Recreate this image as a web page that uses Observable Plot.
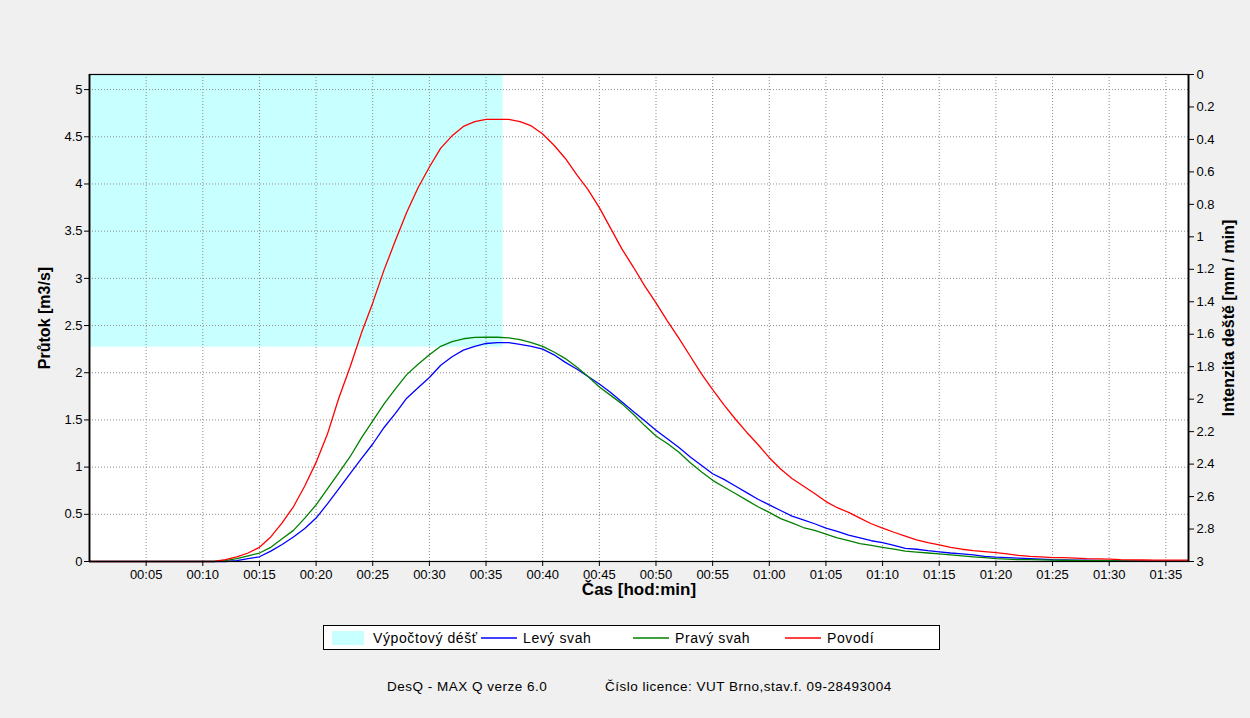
<!DOCTYPE html>
<html>
<head>
<meta charset="utf-8">
<script src="https://cdn.jsdelivr.net/npm/d3@7"></script>
<script src="https://cdn.jsdelivr.net/npm/@observablehq/plot@0.6"></script>
<style>
  html, body { margin: 0; padding: 0; background: #f0f0f0; }
  body { font-family: "Liberation Sans", Arial, sans-serif; color: #000; }
  #wrap { position: relative; width: 1250px; height: 718px; overflow: hidden; background: #f0f0f0; }
  #chart { position: absolute; left: 0; top: 0; }
  #legend { position: absolute; left: 323px; top: 625px; width: 615px; height: 23px; border: 1px solid #000; background: #fff;
            font-size: 14px; letter-spacing: 0.6px; }
  .item { position: absolute; top: 0; height: 23px; display: flex; align-items: center; white-space: nowrap; }
  .sw { display: inline-block; width: 32px; height: 14px; margin-right: 9px; }
  .ln { display: block; margin-right: 6px; }
  .foot { position: absolute; top: 679px; font-size: 13.5px; letter-spacing: 0.5px; white-space: nowrap; }
</style>
</head>
<body>
<div id="wrap">
  <div id="chart"></div>
  <div id="legend"></div>
  <div class="foot" style="left:387px">DesQ - MAX Q verze 6.0</div>
  <div class="foot" style="left:605px">Číslo licence: VUT Brno,stav.f. 09-28493004</div>
</div>
<script>
// ---- data (time in minutes) ----
const minutes = [0, 10, 11, 12, 13, 14, 15, 16, 17, 18, 19, 20, 21, 22, 23, 24, 25, 26, 27, 28, 29,
  30, 31, 32, 33, 34, 35, 36, 37, 38, 39, 40, 41, 42, 43, 44, 45, 46, 47, 48, 49,
  50, 51, 52, 53, 54, 55, 56, 57, 58, 59, 60, 61, 62, 63, 64, 65, 66, 67, 68, 69,
  70, 71, 72, 73, 74, 75, 76, 77, 78, 79, 80, 81, 82, 83, 84, 85, 86, 87, 88, 89,
  90, 91, 92, 93, 94, 95, 96, 97];

const levySvah = [0, 0, 0, 0, 0.01, 0.03, 0.05, 0.11, 0.18, 0.26, 0.35, 0.46, 0.61, 0.77, 0.93, 1.09, 1.245, 1.42, 1.57, 1.73, 1.84,
  1.95, 2.08, 2.17, 2.24, 2.28, 2.31, 2.32, 2.32, 2.30, 2.28, 2.25, 2.19, 2.11, 2.04, 1.96, 1.88, 1.79, 1.69, 1.59, 1.49,
  1.39, 1.30, 1.21, 1.11, 1.02, 0.93, 0.87, 0.80, 0.73, 0.66, 0.60, 0.54, 0.48, 0.44, 0.40, 0.354, 0.32, 0.28, 0.25, 0.22,
  0.20, 0.17, 0.14, 0.13, 0.115, 0.103, 0.09, 0.08, 0.07, 0.055, 0.046, 0.04, 0.035, 0.03, 0.025, 0.02, 0.018, 0.015, 0.013, 0.011,
  0.01, 0.008, 0.007, 0.006, 0.005, 0.005, 0.004, 0.004];

const pravySvah = [0, 0, 0, 0.01, 0.03, 0.06, 0.09, 0.15, 0.24, 0.33, 0.46, 0.60, 0.77, 0.94, 1.11, 1.31, 1.49, 1.67, 1.83, 1.98, 2.09,
  2.19, 2.28, 2.33, 2.36, 2.375, 2.376, 2.376, 2.37, 2.35, 2.32, 2.28, 2.22, 2.15, 2.06, 1.96, 1.85, 1.76, 1.67, 1.56, 1.44,
  1.33, 1.25, 1.16, 1.05, 0.95, 0.86, 0.79, 0.72, 0.65, 0.58, 0.52, 0.455, 0.41, 0.36, 0.33, 0.29, 0.25, 0.22, 0.19, 0.17,
  0.15, 0.13, 0.11, 0.10, 0.09, 0.08, 0.07, 0.06, 0.05, 0.04, 0.03, 0.025, 0.02, 0.02, 0.018, 0.015, 0.013, 0.012, 0.01, 0.01,
  0.008, 0.007, 0.006, 0.005, 0.005, 0.004, 0.004, 0.004];

const povodi = [0, 0, 0, 0.02, 0.05, 0.09, 0.15, 0.26, 0.41, 0.58, 0.80, 1.05, 1.35, 1.73, 2.06, 2.42, 2.74, 3.09, 3.40, 3.70, 3.96,
  4.18, 4.38, 4.51, 4.61, 4.66, 4.685, 4.685, 4.685, 4.66, 4.615, 4.53, 4.41, 4.27, 4.10, 3.94, 3.75, 3.53, 3.31, 3.12, 2.92,
  2.74, 2.55, 2.37, 2.18, 1.99, 1.82, 1.66, 1.51, 1.37, 1.24, 1.10, 0.98, 0.88, 0.80, 0.72, 0.635, 0.57, 0.52, 0.46, 0.40,
  0.354, 0.31, 0.27, 0.23, 0.20, 0.177, 0.15, 0.13, 0.115, 0.105, 0.095, 0.08, 0.065, 0.055, 0.05, 0.042, 0.04, 0.035, 0.03, 0.028,
  0.025, 0.02, 0.018, 0.016, 0.015, 0.015, 0.015, 0.015];

// design rain block (minutes, mm/min)
const rainStart = [0];
const rainEnd = [36.5];
const rainIntensity = [1.68];

const xTickMinutes = [5, 10, 15, 20, 25, 30, 35, 40, 45, 50, 55, 60, 65, 70, 75, 80, 85, 90, 95];
const yTicks = [0, 0.5, 1, 1.5, 2, 2.5, 3, 3.5, 4, 4.5, 5];
const rainTicks = [0, 0.2, 0.4, 0.6, 0.8, 1, 1.2, 1.4, 1.6, 1.8, 2, 2.2, 2.4, 2.6, 2.8, 3];

const seriesNames = ["Levý svah", "Pravý svah", "Povodí"];
const seriesColors = ["#0000ff", "#008000", "#ff0000"];
const seriesValues = [levySvah, pravySvah, povodi];
const rainLabel = "Výpočtový déšť";
const rainColor = "#c8ffff";

const xMax = 97;
const yMax = 5.16;
const rainMax = 3;
const toY = v => yMax * (1 - v / rainMax);
const fromY = y => rainMax * (1 - y / yMax);

const rainRows = rainStart.map((s, i) => ({start: s, end: rainEnd[i], intensity: rainIntensity[i]}));
const lineRows = seriesValues.map(vals => minutes.map((t, i) => ({t, q: vals[i]})));

const fmtTime = m => String(Math.floor(m / 60)).padStart(2, "0") + ":" + String(m % 60).padStart(2, "0");
const fmtNum = d3.format("~g");
const gridStyle = {stroke: "#8c8c8c", strokeOpacity: 1, strokeWidth: 1, strokeDasharray: "1,2"};

const chart = Plot.plot({
  width: 1250,
  height: 612,
  marginTop: 74,
  marginLeft: 89,
  marginRight: 62,
  marginBottom: 51,
  x: {domain: [0, xMax]},
  y: {domain: [0, yMax]},
  style: {background: "transparent", fontFamily: "'Liberation Sans', Arial, sans-serif", fontSize: "13px", color: "#000"},
  marks: [
    Plot.frame({fill: "white", stroke: null}),
    Plot.rect(rainRows, {x1: "start", x2: "end", y1: d => toY(d.intensity), y2: d => toY(0), fill: rainColor}),
    Plot.gridX(xTickMinutes, gridStyle),
    Plot.gridY(yTicks.filter(d => d > 0), gridStyle),
    ...lineRows.map((rows, i) => Plot.line(rows, {x: "t", y: "q", stroke: seriesColors[i], strokeWidth: 1.3})),
    Plot.axisX(xTickMinutes, {tickFormat: fmtTime, tickSize: 5, tickPadding: 3, label: null, fontSize: 13}),
    Plot.axisY(yTicks, {anchor: "left", tickFormat: fmtNum, tickSize: 5, tickPadding: 2, label: null, fontSize: 13}),
    Plot.axisY(rainTicks.map(toY), {anchor: "right", tickFormat: y => fmtNum(+fromY(y).toFixed(2)), tickSize: 5, tickPadding: 3, label: null, fontSize: 13}),
    Plot.frame({stroke: "#000", strokeWidth: 1.2}),
    Plot.ruleX([0], {stroke: "#000", strokeWidth: 1.8}),
    Plot.ruleX([xMax], {stroke: "#000", strokeWidth: 1.8}),
    Plot.text(["Průtok [m3/s]"], {frameAnchor: "left", dx: -45, rotate: -90, textAnchor: "middle", fontWeight: "bold", fontSize: 16}),
    Plot.text(["Intenzita deště [mm / min]"], {frameAnchor: "right", dx: 40, rotate: -90, textAnchor: "middle", fontWeight: "bold", fontSize: 16}),
    Plot.text(["Čas [hod:min]"], {frameAnchor: "bottom", dy: 33, textAnchor: "middle", fontWeight: "bold", fontSize: 17})
  ]
});
document.getElementById("chart").appendChild(chart);

// legend (HTML, below the SVG plot area)
const SVGNS = "http://www.w3.org/2000/svg";
const legend = document.getElementById("legend");
const entries = [{label: rainLabel, color: rainColor, kind: "sw"}].concat(seriesNames.map((n, i) => ({label: n, color: seriesColors[i], kind: "ln"})));
const colLeft = [8, 157, 309, 461];
entries.forEach((e, i) => {
  const div = document.createElement("div");
  div.className = "item";
  div.style.left = colLeft[i] + "px";
  if (e.kind === "sw") {
    const sw = document.createElement("span");
    sw.className = "sw";
    sw.style.background = e.color;
    div.appendChild(sw);
  } else {
    const svg = document.createElementNS(SVGNS, "svg");
    svg.setAttribute("width", "36");
    svg.setAttribute("height", "10");
    svg.setAttribute("class", "ln");
    const line = document.createElementNS(SVGNS, "line");
    line.setAttribute("x1", "0"); line.setAttribute("x2", "36");
    line.setAttribute("y1", "5"); line.setAttribute("y2", "5");
    line.setAttribute("stroke", e.color);
    line.setAttribute("stroke-width", "1.6");
    svg.appendChild(line);
    div.appendChild(svg);
  }
  div.appendChild(document.createTextNode(e.label));
  legend.appendChild(div);
});
</script>
</body>
</html>
